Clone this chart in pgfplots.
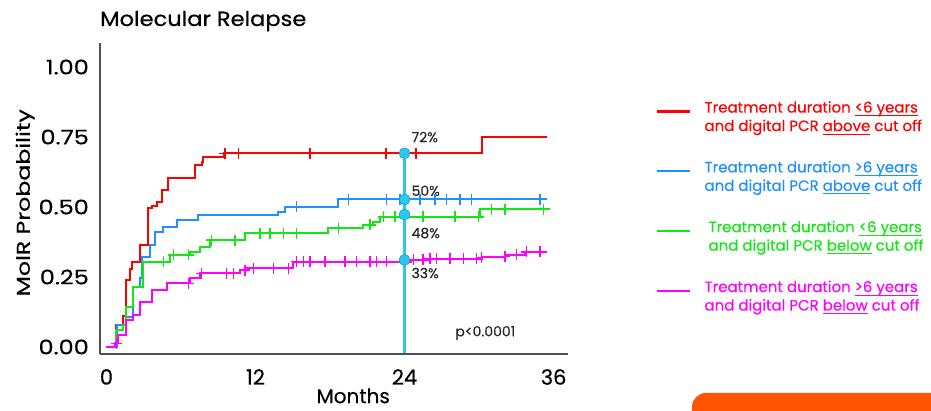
\documentclass[border=0pt]{standalone}
\usepackage{pgfplots}
\pgfplotsset{compat=1.18}
\usepackage{fontspec}
\setmainfont{Poppins}[FakeBold=0.3]
\newfontfamily\titlefont{Poppins}[FakeStretch=1.1, FakeBold=0.6]
\newfontfamily\ytickfont{Poppins}[FakeStretch=1.2, FakeBold=0.4]
\newfontfamily\xtickfont{Poppins}[FakeBold=0.4]
\newfontfamily\ylabfont{Poppins}[FakeStretch=1.28, FakeBold=0.4]
\newcommand\ul[1]{\setbox0=\hbox{#1}\rlap{\rule[-3.5pt]{\wd0}{1pt}}\box0\relax}
\definecolor{cRed}{RGB}{255,0,0}
\definecolor{cBlue}{RGB}{30,144,255}
\definecolor{cGreen}{RGB}{20,230,20}
\definecolor{cMag}{RGB}{255,0,255}
\definecolor{cCyan}{RGB}{40,200,240}
\definecolor{cOrange}{RGB}{255,85,0}
\definecolor{axgray}{RGB}{80,80,80}
\begin{document}
\begin{tikzpicture}[x=1pt,y=1pt]
\useasboundingbox (0,0) rectangle (931,411);
\fill[cOrange, rounded corners=14pt] (692,-30) rectangle (990,18);
\begin{axis}[
  at={(100pt,57pt)}, anchor=south west,
  scale only axis, width=468pt, height=311pt,
  xmin=-0.52, xmax=37.16, ymin=-0.025, ymax=1.086,
  axis lines=left, axis line style={-, line width=1.3pt, axgray},
  xtick={0,12,24,36}, ytick={0,0.25,0.5,0.75,1},
  major tick length=0pt,
  /pgf/number format/assume math mode=true,
  yticklabel style={/pgf/number format/fixed, /pgf/number format/fixed zerofill, /pgf/number format/precision=2},
  xticklabel style={inner sep=0pt, anchor=north, yshift=-15pt, font=\xtickfont\fontsize{21}{21}\selectfont},
  yticklabel style={inner sep=0pt, anchor=east, xshift=-11pt, font=\ytickfont\fontsize{20}{20}\selectfont},
  title={Molecular Relapse},
  title style={at={(axis description cs:0,1)}, anchor=base west, yshift=11pt, inner sep=0pt, font=\titlefont\fontsize{20.5}{20.5}\selectfont},
  xlabel={Months},
  every axis x label/.style={at={(axis description cs:0.541,-0.158)}, anchor=base, inner sep=0pt, font=\xtickfont\fontsize{20}{20}\selectfont},
  ylabel={MolR Probability},
  every axis y label/.style={at={(axis description cs:-0.160,0.486)}, rotate=90, anchor=center, font=\ylabfont\fontsize{18.5}{18.5}\selectfont},
  clip=false,
  legend style={at={(axis description cs:1.186,0.82)}, anchor=north west, draw=none, fill=none,
    font=\fontsize{15}{18.5}\selectfont, row sep=24.4pt, cells={align=left}, inner sep=0pt},
  legend cell align=left,
  legend image code/.code={\draw[#1, line width=2.5pt] (0pt,5.5pt) -- (33pt,5.5pt); \path (45pt,5.5pt);},
  curve/.style={line width=2pt, const plot, mark=none},
  cens/.style={only marks, mark=+, mark size=5.5pt, mark options={line width=1.4pt}, forget plot},
]
% Red
\addplot[curve, cRed] coordinates {
(0,0) (0.8,0.08) (1.3,0.11) (1.57,0.24) (1.9,0.28) (2.03,0.305) (2.7,0.364)
(3.37,0.495) (3.7,0.505) (4.04,0.519) (4.44,0.56) (4.98,0.605) (7.13,0.65)
(7.66,0.662) (7.8,0.677) (9.5,0.692) (30.2,0.749) (35.5,0.749)};
\addlegendentry{\textcolor{cRed}{Treatment duration \ul{<6 years}}\\\textcolor{cRed}{and digital PCR \ul{above} cut off}}
% Blue
\addplot[curve, cBlue] coordinates {
(0,0) (0.82,0.079) (1.57,0.108) (2.16,0.215) (2.70,0.245) (2.83,0.323) (3.50,0.364)
(3.90,0.412) (4.58,0.43) (5.65,0.454) (7.39,0.471) (13.83,0.483) (14.37,0.501)
(18.66,0.527) (35.5,0.527)};
\addlegendentry{\textcolor{cBlue}{Treatment duration \ul{>6 years}}\\\textcolor{cBlue}{and digital PCR \ul{above} cut off}}
% Green
\addplot[curve, cGreen] coordinates {
(0,0) (0.76,0.061) (1.35,0.079) (1.57,0.144) (2.16,0.215) (2.97,0.305) (5.11,0.329)
(6.72,0.34) (7.53,0.358) (8.33,0.382) (11.15,0.406) (17.86,0.424) (20.68,0.436)
(21.48,0.448) (22.02,0.465) (30.07,0.492) (35.7,0.492)};
\addlegendentry{\hspace*{4pt}\textcolor{cGreen}{Treatment duration \ul{<6 years}}\\\hspace*{4pt}\textcolor{cGreen}{and digital PCR \ul{below} cut off}}
% Magenta
\addplot[curve, cMag] coordinates {
(0,0) (0.68,0.013) (0.95,0.043) (1.57,0.096) (2.16,0.114) (2.70,0.162) (3.64,0.204)
(4.85,0.227) (6.72,0.245) (7.53,0.263) (10.75,0.275) (11.29,0.281) (15.04,0.305)
(24.5,0.311) (26,0.315) (30.2,0.32) (32.1,0.33) (33.7,0.34) (35.5,0.34)};
\addlegendentry{\textcolor{cMag}{Treatment duration \ul{>6 years}}\\\textcolor{cMag}{and digital PCR \ul{below} cut off}}
% censor marks
\addplot[cens, cRed] coordinates {(9.54,0.692) (10.61,0.692) (16.38,0.692) (22.5,0.692) (24.92,0.692)};
\addplot[cens, cBlue] coordinates {(15.31,0.501) (19.47,0.527) (22.56,0.527) (23.63,0.527) (25.24,0.527) (26.45,0.527) (27.39,0.527) (28.46,0.527) (29.4,0.527) (34.9,0.527)};
\addplot[cens, cGreen] coordinates {(4.57,0.305) (5.38,0.329) (6.59,0.329) (8.47,0.382) (10.35,0.382) (12.36,0.406) (13.16,0.406) (14.24,0.406) (15.31,0.406) (18.66,0.424) (21.22,0.436) (22.29,0.465) (23.23,0.465) (25.5,0.465) (28.06,0.465) (29.94,0.465) (31.01,0.492) (32.08,0.492) (35.17,0.492)};
\addplot[cens, cMag] coordinates {(0.82,0.013) (6.59,0.227) (7.66,0.263) (9.68,0.263) (10.21,0.263) (11.15,0.275) (11.82,0.281) (13.43,0.281) (14.64,0.281) (15.31,0.305) (15.85,0.305) (16.38,0.305) (17.59,0.305) (19.2,0.305) (20.14,0.305) (21.22,0.305) (21.76,0.305) (22.56,0.305) (24.7,0.311) (25.5,0.311) (26.04,0.315) (26.58,0.315) (27.66,0.315) (28.73,0.315) (29.81,0.315) (30.21,0.32) (32.08,0.323) (33.03,0.33) (33.83,0.34) (34.9,0.34)};
% 24-month line and points
\addplot[cCyan, line width=2.2pt, forget plot] coordinates {(24,-0.02) (24,0.692)};
\addplot[only marks, mark=*, mark size=5.5pt, mark options={fill=cCyan, draw=cCyan!75!black, line width=0.5pt}, forget plot]
  coordinates {(24,0.692) (24,0.527) (24,0.473) (24,0.311)};
\node[anchor=west, font=\fontsize{14}{14}\selectfont, text=black!85, inner sep=0pt] at (axis cs:24.55,0.75) {72\%};
\node[anchor=west, font=\fontsize{14}{14}\selectfont, text=black!85, inner sep=0pt] at (axis cs:24.55,0.558) {50\%};
\node[anchor=west, font=\fontsize{14}{14}\selectfont, text=black!85, inner sep=0pt] at (axis cs:24.55,0.407) {48\%};
\node[anchor=west, font=\fontsize{14}{14}\selectfont, text=black!85, inner sep=0pt] at (axis cs:24.55,0.264) {33\%};
\node[anchor=center, font=\fontsize{14}{14}\selectfont, text=black!85, inner sep=0pt] at (axis cs:30.5,0.05) {p<0.0001};
\end{axis}
\end{tikzpicture}
\end{document}
